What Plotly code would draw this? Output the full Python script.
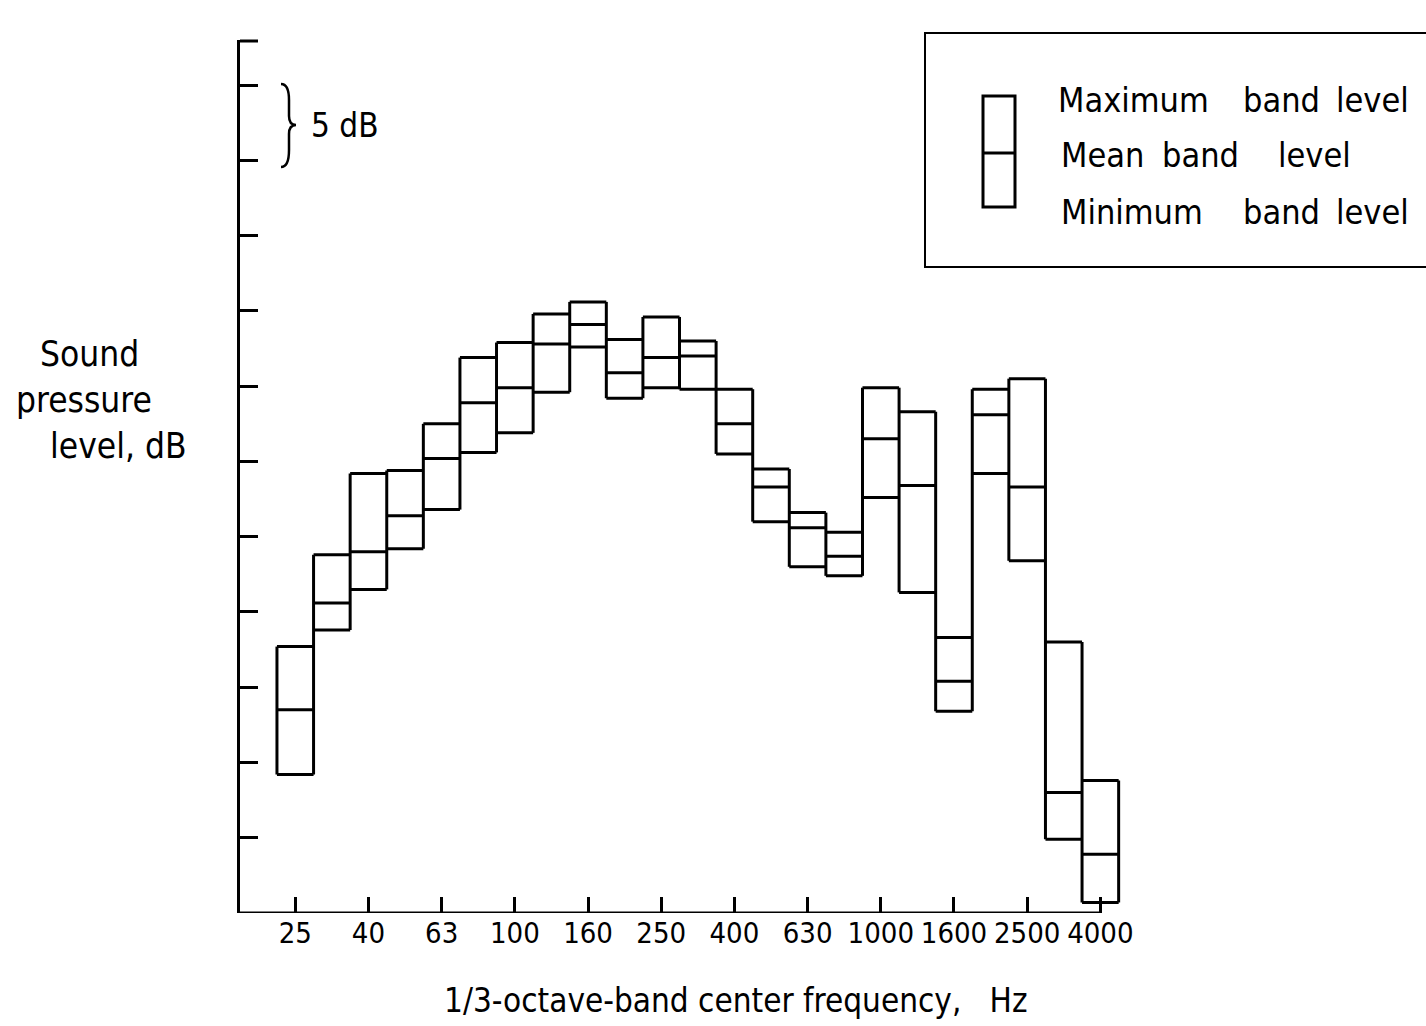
import plotly.graph_objects as go

# 1/3-octave band centre frequencies (Hz)
bands = ["25", "31.5", "40", "50", "63", "80", "100", "125", "160", "200", "250", "315",
         "400", "500", "630", "800", "1000", "1250", "1600", "2000", "2500", "3150", "4000"]
# Levels in dB relative to the bottom of the axis (axis has no numeric labels, 5 dB per tick)
max_level = [17.7, 23.8, 29.2, 29.4, 32.5, 36.9, 37.9, 39.8, 40.6, 38.1, 39.6, 38.0,
             34.8, 29.5, 26.6, 25.3, 34.9, 33.3, 18.3, 34.8, 35.5, 18.0, 8.8]
mean_level = [13.5, 20.6, 24.0, 26.4, 30.2, 33.9, 34.9, 37.8, 39.1, 35.9, 36.9, 37.0,
              32.5, 28.3, 25.6, 23.7, 31.5, 28.4, 15.4, 33.1, 28.3, 8.0, 3.9]
min_level = [9.2, 18.8, 21.5, 24.2, 26.8, 30.6, 31.9, 34.6, 37.6, 34.2, 34.9, 34.8,
             30.5, 26.0, 23.0, 22.4, 27.6, 21.3, 13.4, 29.2, 23.4, 4.9, 0.7]
tick_labels = ["25", "40", "63", "100", "160", "250", "400", "630", "1000", "1600", "2500", "4000"]
y_ticks = [5, 10, 15, 20, 25, 30, 35, 40, 45, 50, 55, 58]

FONT = "DejaVu Sans Condensed, Liberation Sans Narrow, Arial Narrow, sans-serif"
W, H = 1426, 1026
L, R, T, B = 240, 1160, 40, 913
X0 = -1.51
X1 = 23.63


def px(x, y):
    return (x - L) / (R - L), (B - y) / (B - T)


n = len(bands)
xs, ys = [], []
# horizontal lines for max, mean, min of each band
for i in range(n):
    for v in (max_level[i], mean_level[i], min_level[i]):
        xs += [i - 0.5, i + 0.5, None]
        ys += [v, v, None]
# vertical boundaries
for b in range(n + 1):
    idx = [k for k in (b - 1, b) if 0 <= k < n]
    top = max(max_level[k] for k in idx)
    bot = min(min_level[k] for k in idx)
    xs += [b - 0.5, b - 0.5, None]
    ys += [bot, top, None]

fig = go.Figure()
fig.add_trace(go.Scatter(x=xs, y=ys, mode="lines",
                         line=dict(color="black", width=3), hoverinfo="skip"))

shapes = []
# x-axis baseline ending at the last labelled tick
shapes.append(dict(type="line", xref="x", yref="y", x0=X0, x1=n - 1, y0=0, y1=0,
                   line=dict(color="black", width=3)))
# tick at the very top of the y axis
tx0, ty = px(240, 41)
tx1, _ = px(258, 41)
shapes.append(dict(type="line", xref="paper", yref="paper", x0=tx0, x1=tx1, y0=ty, y1=ty,
                   line=dict(color="black", width=3)))

# legend box
bx0, by0 = px(925, 267)
bx1, by1 = px(1440, 33)
shapes.append(dict(type="rect", xref="paper", yref="paper", x0=bx0, x1=bx1, y0=by0, y1=by1,
                   line=dict(color="black", width=2)))
ix0, iy0 = px(983, 207)
ix1, iy1 = px(1015, 96)
shapes.append(dict(type="rect", xref="paper", yref="paper", x0=ix0, x1=ix1, y0=iy0, y1=iy1,
                   line=dict(color="black", width=3)))
mx0, my = px(983, 153)
mx1, _ = px(1015, 153)
shapes.append(dict(type="line", xref="paper", yref="paper", x0=mx0, x1=mx1, y0=my, y1=my,
                   line=dict(color="black", width=3)))

# brace for the 5 dB indicator
brace_pts = [(281, 84), (289, 100), (289, 116), (296, 125), (289, 134), (289, 150), (281, 167)]
P = [px(a, b) for a, b in brace_pts]
path = (f"M {P[0][0]},{P[0][1]} Q {P[1][0]},{P[0][1]} {P[1][0]},{P[1][1]} "
        f"L {P[2][0]},{P[2][1]} Q {P[2][0]},{P[3][1]} {P[3][0]},{P[3][1]} "
        f"Q {P[4][0]},{P[3][1]} {P[4][0]},{P[4][1]} "
        f"L {P[5][0]},{P[5][1]} Q {P[5][0]},{P[6][1]} {P[6][0]},{P[6][1]}")
shapes.append(dict(type="path", xref="paper", yref="paper", path=path,
                   line=dict(color="black", width=2.5)))

annotations = []


def text(s, x, y, size=34, xanchor="left"):
    ax, ay = px(x, y)
    annotations.append(dict(text=s, x=ax, y=ay, xref="paper", yref="paper",
                            xanchor=xanchor, yanchor="middle", showarrow=False,
                            font=dict(family=FONT, size=size, color="black")))


# legend texts, word by word to keep the wide spacing of the original
text("Maximum", 1056, 100)
text("band", 1241, 100)
text("level", 1334, 100)
text("Mean", 1059, 155)
text("band", 1160, 155)
text("level", 1276, 155)
text("Minimum", 1059, 212)
text("band", 1241, 212)
text("level", 1334, 212)

text("5 dB", 309, 126, 33)
text("Sound", 89, 354, 35, "center")
text("pressure", 84, 400, 35, "center")
text("level, dB", 118, 446, 35, "center")
text("1/3-octave-band center frequency," + "\u00a0\u00a0\u00a0" + "Hz", 736, 1000, 33, "center")

fig.update_layout(
    width=W, height=H,
    margin=dict(l=L, r=W - R, t=T, b=H - B, pad=0),
    paper_bgcolor="white", plot_bgcolor="white",
    showlegend=False,
    shapes=shapes, annotations=annotations,
    xaxis=dict(range=[X0, X1], showgrid=False, zeroline=False, showline=False,
               tickmode="array", tickvals=list(range(0, n, 2)), ticktext=tick_labels,
               ticks="inside", ticklen=16, tickwidth=3, tickcolor="black", tickangle=0,
               tickfont=dict(family=FONT, size=29, color="black")),
    yaxis=dict(range=[0, 58], showgrid=False, zeroline=False, showline=True,
               linecolor="black", linewidth=3,
               tickmode="array", tickvals=y_ticks, ticks="inside", ticklen=18,
               tickwidth=3, tickcolor="black", showticklabels=False),
)

fig.write_html("out.html")
